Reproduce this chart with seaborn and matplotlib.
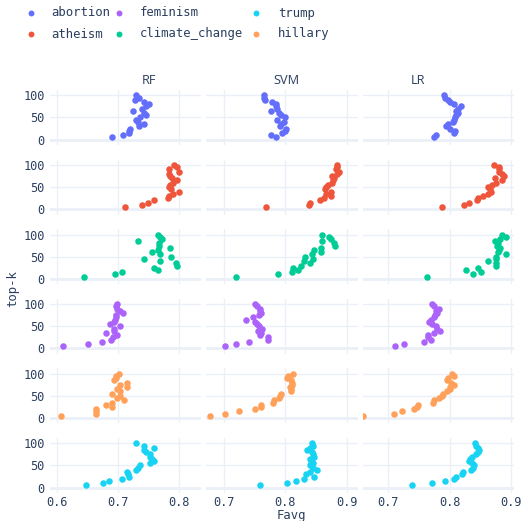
import numpy as np
import pandas as pd
import matplotlib
matplotlib.use("Agg")
import matplotlib.pyplot as plt
import seaborn as sns

# ---------------- data ----------------
topics = ["abortion", "atheism", "climate_change", "feminism", "hillary", "trump"]
models = ["RF", "SVM", "LR"]
top_k = [5, 10, 15, 20, 25, 30, 35, 40, 45, 50, 55, 60, 65, 70, 75, 80, 85, 90, 95, 100]

abortion_rf = [0.690, 0.708, 0.718, 0.718, 0.720, 0.735, 0.742, 0.733, 0.730, 0.736,
               0.746, 0.743, 0.725, 0.740, 0.746, 0.750, 0.743, 0.728, 0.735, 0.730]
abortion_svm = [0.784, 0.777, 0.795, 0.799, 0.801, 0.791, 0.793, 0.798, 0.786, 0.799,
                0.793, 0.790, 0.777, 0.786, 0.785, 0.785, 0.778, 0.767, 0.766, 0.765]
abortion_lr = [0.774, 0.778, 0.808, 0.809, 0.800, 0.794, 0.798, 0.805, 0.808, 0.809,
               0.810, 0.814, 0.811, 0.813, 0.819, 0.807, 0.801, 0.797, 0.793, 0.791]

atheism_rf = [0.711, 0.740, 0.749, 0.759, 0.782, 0.784, 0.789, 0.799, 0.786, 0.784,
              0.785, 0.789, 0.797, 0.788, 0.785, 0.784, 0.800, 0.783, 0.796, 0.792]
atheism_svm = [0.768, 0.839, 0.841, 0.857, 0.863, 0.874, 0.866, 0.874, 0.865, 0.867,
               0.870, 0.877, 0.878, 0.880, 0.876, 0.885, 0.887, 0.883, 0.885, 0.884]
atheism_lr = [0.788, 0.824, 0.832, 0.845, 0.846, 0.855, 0.863, 0.867, 0.866, 0.862,
              0.870, 0.875, 0.886, 0.874, 0.889, 0.885, 0.881, 0.880, 0.880, 0.873]

climate_rf = [0.644, 0.695, 0.706, 0.765, 0.758, 0.796, 0.794, 0.769, 0.743, 0.786,
              0.769, 0.755, 0.766, 0.785, 0.767, 0.767, 0.733, 0.772, 0.769, 0.766]
climate_svm = [0.720, 0.788, 0.811, 0.820, 0.813, 0.826, 0.840, 0.830, 0.846, 0.832,
               0.843, 0.858, 0.847, 0.858, 0.881, 0.880, 0.860, 0.874, 0.872, 0.860]
climate_lr = [0.763, 0.838, 0.851, 0.826, 0.846, 0.875, 0.876, 0.863, 0.876, 0.876,
              0.892, 0.879, 0.881, 0.882, 0.878, 0.879, 0.874, 0.882, 0.892, 0.886]

feminism_rf = [0.611, 0.651, 0.674, 0.688, 0.692, 0.698, 0.680, 0.693, 0.694, 0.704,
               0.687, 0.693, 0.695, 0.697, 0.696, 0.708, 0.703, 0.699, 0.696, 0.699]
feminism_svm = [0.702, 0.720, 0.740, 0.771, 0.772, 0.759, 0.760, 0.756, 0.762, 0.757,
                0.753, 0.751, 0.735, 0.747, 0.757, 0.761, 0.759, 0.758, 0.753, 0.750]
feminism_lr = [0.711, 0.726, 0.759, 0.770, 0.765, 0.764, 0.775, 0.784, 0.780, 0.778,
               0.771, 0.767, 0.769, 0.774, 0.777, 0.779, 0.778, 0.782, 0.774, 0.772]

hillary_rf = [0.607, 0.664, 0.664, 0.664, 0.690, 0.680, 0.690, 0.710, 0.699, 0.704,
              0.690, 0.704, 0.699, 0.715, 0.704, 0.715, 0.693, 0.697, 0.696, 0.702]
hillary_svm = [0.677, 0.702, 0.725, 0.751, 0.761, 0.761, 0.780, 0.782, 0.790, 0.791,
               0.793, 0.809, 0.809, 0.807, 0.811, 0.811, 0.809, 0.802, 0.805, 0.812]
hillary_lr = [0.659, 0.710, 0.723, 0.742, 0.747, 0.749, 0.773, 0.774, 0.782, 0.787,
              0.790, 0.795, 0.800, 0.801, 0.808, 0.803, 0.795, 0.798, 0.807, 0.804]

trump_rf = [0.648, 0.676, 0.686, 0.706, 0.718, 0.716, 0.715, 0.730, 0.733, 0.736,
            0.753, 0.758, 0.755, 0.752, 0.752, 0.746, 0.742, 0.758, 0.743, 0.730]
trump_svm = [0.758, 0.803, 0.817, 0.830, 0.847, 0.834, 0.841, 0.851, 0.845, 0.840,
             0.845, 0.842, 0.840, 0.847, 0.845, 0.844, 0.836, 0.840, 0.845, 0.844]
trump_lr = [0.738, 0.772, 0.793, 0.807, 0.811, 0.820, 0.822, 0.835, 0.838, 0.840,
            0.836, 0.832, 0.834, 0.836, 0.843, 0.846, 0.848, 0.847, 0.843, 0.842]

legend_order = ["abortion", "atheism", "feminism", "climate_change", "trump", "hillary"]
x_ticks = {"RF": [0.6, 0.7, 0.8], "SVM": [0.7, 0.8, 0.9], "LR": [0.7, 0.8, 0.9]}
y_ticks = [0, 50, 100]

series = {
    ("abortion", "RF"): abortion_rf, ("abortion", "SVM"): abortion_svm, ("abortion", "LR"): abortion_lr,
    ("atheism", "RF"): atheism_rf, ("atheism", "SVM"): atheism_svm, ("atheism", "LR"): atheism_lr,
    ("climate_change", "RF"): climate_rf, ("climate_change", "SVM"): climate_svm, ("climate_change", "LR"): climate_lr,
    ("feminism", "RF"): feminism_rf, ("feminism", "SVM"): feminism_svm, ("feminism", "LR"): feminism_lr,
    ("hillary", "RF"): hillary_rf, ("hillary", "SVM"): hillary_svm, ("hillary", "LR"): hillary_lr,
    ("trump", "RF"): trump_rf, ("trump", "SVM"): trump_svm, ("trump", "LR"): trump_lr,
}

rows = []
for (t, m), vals in series.items():
    for k, v in zip(top_k, vals):
        rows.append({"topic": t, "model": m, "top-k": k, "Favg": v})
df = pd.DataFrame(rows)

# ---------------- style ----------------
palette = {"abortion": "#636EFA", "atheism": "#EF553B", "climate_change": "#00CC96",
           "feminism": "#AB63FA", "hillary": "#FFA15A", "trump": "#19D3F3"}
TXT = "#2a3f5f"
GRID = "#EBF0F8"
MONO = "DejaVu Sans Mono"
SANS = "Open Sans"

sns.set_theme(style="white")
plt.rcParams["font.family"] = [MONO, "DejaVu Sans"]

W = H = 521
fig = plt.figure(figsize=(W / 100, H / 100), dpi=100)
fig.patch.set_facecolor("white")

left_px = [50, 206.3, 362.6]
panel_w = 151.3
panel_h = 55
top_px = [90 + 69.6 * i for i in range(6)]
xlims = {"RF": (0.589, 0.836), "SVM": (0.671, 0.918), "LR": (0.658, 0.905)}
ylim = (-12, 112)

for r, topic in enumerate(topics):
    for c, model in enumerate(models):
        l, t = left_px[c], top_px[r]
        ax = fig.add_axes([l / W, 1 - (t + panel_h) / H, panel_w / W, panel_h / H])
        sub = df[(df["topic"] == topic) & (df["model"] == model)]
        ax.axhline(0, color=GRID, lw=2, zorder=0.6)
        sns.scatterplot(data=sub, x="Favg", y="top-k", color=palette[topic], s=22,
                        linewidth=0, ax=ax, legend=False, zorder=3)
        ax.set_xticks(x_ticks[model])
        ax.set_yticks(y_ticks)
        ax.set_xlim(*xlims[model])
        ax.set_ylim(*ylim)
        ax.grid(True, color=GRID, lw=1)
        ax.set_axisbelow(True)
        for s in ax.spines.values():
            s.set_visible(False)
        ax.tick_params(axis="x", length=0, labelsize=8.6, labelcolor=TXT, pad=2)
        ax.tick_params(axis="y", length=0, labelsize=8.6, labelcolor=TXT, pad=4)
        ax.set_xlabel("")
        ax.set_ylabel("")
        if c != 0:
            ax.set_yticklabels([])
        if r != len(topics) - 1:
            ax.set_xticklabels([])
        else:
            ax.set_xticklabels([f"{v:.1f}" for v in x_ticks[model]])
        ax.set_facecolor("white")

# column titles
for x, name in zip([149, 286, 418], models):
    fig.text(x / W, 1 - 81 / H, name, ha="center", va="center", fontsize=9.2,
             color=TXT, family=[SANS, "DejaVu Sans"])

# axis titles
fig.text(291 / W, 1 - 515 / H, "Favg", ha="center", va="center", fontsize=8.8, color=TXT)
fig.text(13 / W, 1 - 289 / H, "top-k", ha="center", va="center", fontsize=8.8,
         color=TXT, rotation=90)

# legend (overlay axes in pixel coordinates)
lax = fig.add_axes([0, 0, 1, 1])
lax.set_xlim(0, W)
lax.set_ylim(H, 0)
lax.axis("off")
lax.patch.set_alpha(0)
marker_x = [31, 119, 256]
text_x = [51, 140, 278]
row_y = [13, 34]
for i, name in enumerate(legend_order):
    col, row = divmod(i, 2)
    lax.scatter([marker_x[col]], [row_y[row]], s=18, color=palette[name], linewidth=0)
    lax.text(text_x[col], row_y[row], name, ha="left", va="center", fontsize=8.8, color=TXT)

fig.savefig("out.png", dpi=100, facecolor="white")
